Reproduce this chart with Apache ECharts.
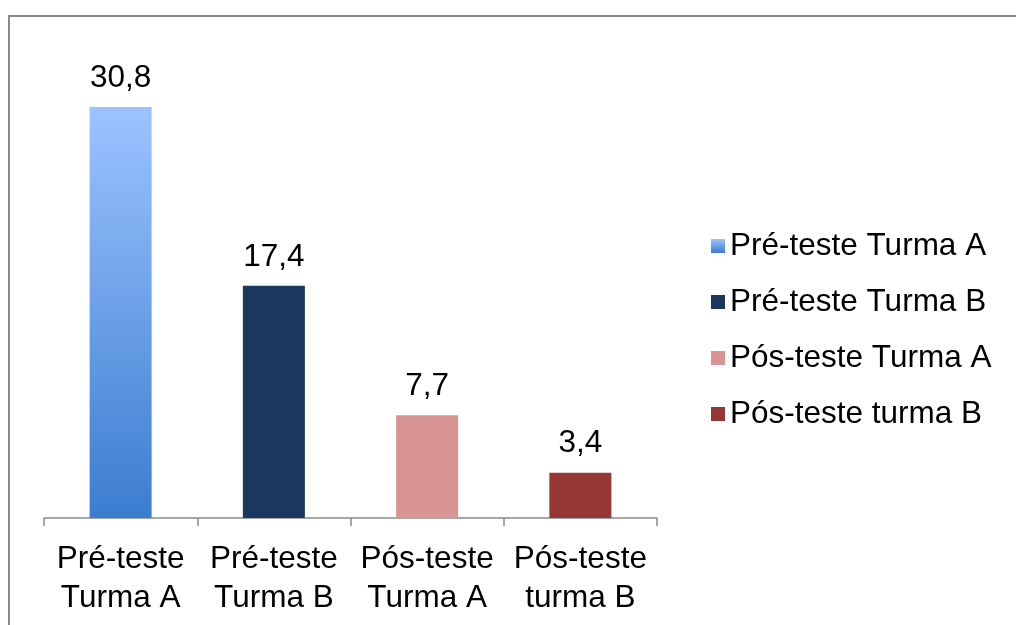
<!DOCTYPE html>
<html>
<head>
<meta charset="utf-8">
<script src="https://cdn.jsdelivr.net/npm/echarts@6.0.0/dist/echarts.min.js"></script>
<style>
  html, body { margin: 0; padding: 0; background: #fff; }
  #chart { width: 1016px; height: 625px; }
</style>
</head>
<body>
<div id="chart"></div>
<script>
const categories = ["Pré-teste\nTurma A", "Pré-teste\nTurma B", "Pós-teste\nTurma A", "Pós-teste\nturma B"]
const seriesNames = ["Pré-teste Turma A", "Pré-teste Turma B", "Pós-teste Turma A", "Pós-teste turma B"]
const values = [30.8, 17.4, 7.7, 3.4]

const FONT = '"Liberation Sans", Arial, sans-serif'
const FS = 31.5
const colors = [
    new echarts.graphic.LinearGradient(0, 0, 0, 1, [
        { offset: 0, color: "#9cc3ff" },
        { offset: 1, color: "#3b7dcf" }
    ]),
    "#1b365f",
    "#d99594",
    "#953735"
]

const chart = echarts.init(document.getElementById("chart"))

// one series per legend entry, each filling only its own category
const series = seriesNames.map((name, i) => ({
    name: name,
    type: "bar",
    stack: "all",
    barWidth: 62,
    data: values.map((v, j) => (j === i ? v : null)),
    itemStyle: { color: colors[i] },
    label: {
        show: true,
        position: "top",
        distance: 13,
        fontSize: FS,
        fontFamily: FONT,
        color: "#000",
        formatter: p => String(p.value).replace(".", ",")
    }
}))

chart.setOption({
    animation: false,
    graphic: [{
        type: "rect",
        shape: { x: 9, y: 16, width: 1100, height: 700 },
        style: { fill: "none", stroke: "#8a8a8a", lineWidth: 2 },
        z: -1
    }],
    grid: { left: 44, right: 359, top: 51, bottom: 107 },
    legend: {
        orient: "vertical",
        left: 706,
        top: 225,
        itemWidth: 14,
        itemHeight: 14,
        itemGap: 24,
        icon: "rect",
        data: seriesNames,
        textStyle: { fontSize: FS, fontFamily: FONT, color: "#000" }
    },
    xAxis: {
        type: "category",
        data: categories,
        axisLine: { lineStyle: { color: "#8a8a8a", width: 1.5 } },
        axisTick: { show: true, length: 8, lineStyle: { color: "#8a8a8a", width: 1.5 } },
        axisLabel: {
            fontSize: FS,
            fontFamily: FONT,
            color: "#000",
            lineHeight: 39,
            margin: 22,
            interval: 0
        }
    },
    yAxis: {
        type: "value",
        min: 0,
        max: 35,
        show: false
    },
    series: series
})
</script>
</body>
</html>
